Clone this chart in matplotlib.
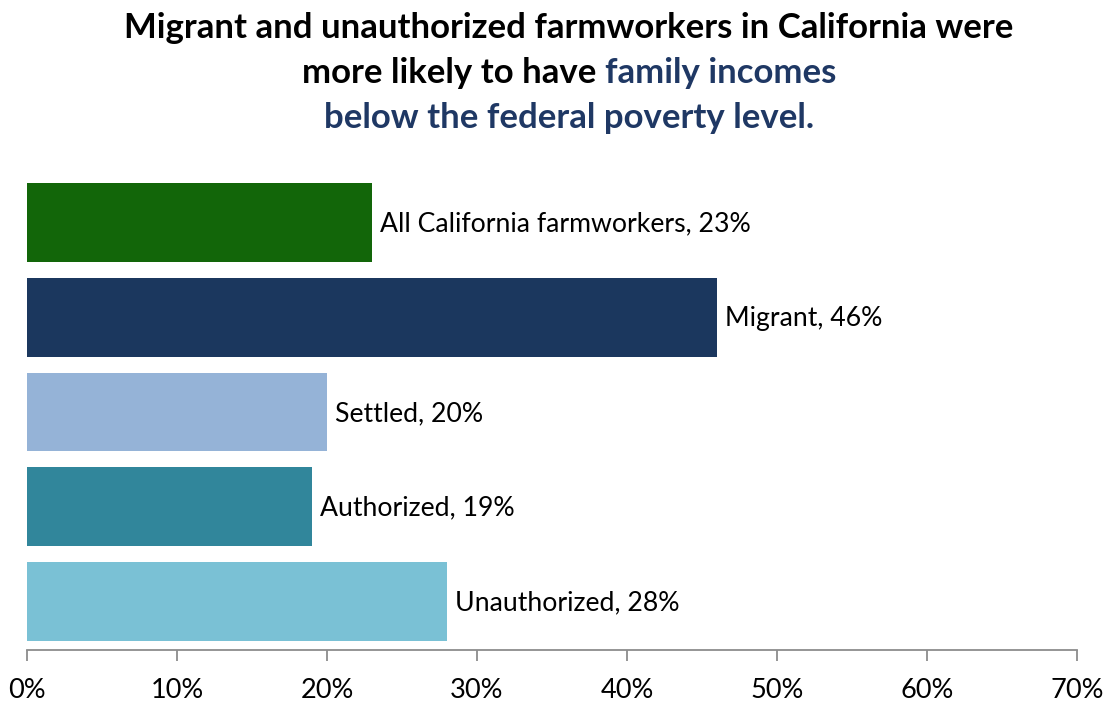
import matplotlib
matplotlib.use("Agg")
import matplotlib.pyplot as plt

# poverty shares by farmworker group
groups = ["All California farmworkers", "Migrant", "Settled", "Authorized", "Unauthorized"]
shares = [23, 46, 20, 19, 28]
colors = ["#126609", "#1B375E", "#95B3D7", "#31869B", "#7AC1D5"]
xticks = [0, 10, 20, 30, 40, 50, 60, 70]

plt.rcParams["font.family"] = ["Lato", "DejaVu Sans"]

fig = plt.figure(figsize=(11.05, 7.02), dpi=100)
ax = fig.add_axes([0.0244, 0.0741, 0.9502, 0.6766])

ypos = list(range(len(groups)))
ax.barh(ypos, shares, height=0.83, color=colors)
for y, v, g in zip(ypos, shares, groups):
    ax.annotate(f"{g}, {v}%", (v, y), xytext=(6, -1), textcoords="offset points",
                va="center", ha="left", fontsize=19.2, color="black")

ax.set_xlim(0, 70)
ax.set_ylim(4.51, -0.5)
ax.set_xticks(xticks)
ax.set_xticklabels([f"{t}%" for t in xticks], fontsize=19.5)
ax.set_yticks([])
for s in ["top", "right", "left"]:
    ax.spines[s].set_visible(False)
ax.spines["bottom"].set_color("#8c8c8c")
ax.spines["bottom"].set_linewidth(1.3)
ax.tick_params(axis="x", direction="out", length=8, width=1.3, color="#8c8c8c", pad=12)

# title, with the second part in navy
navy = "#1F3864"
tsize = 25
xc = 569 / 1105
fig.text(xc, 1 - 28 / 702, "Migrant and unauthorized farmworkers in California were",
         ha="center", va="center", fontsize=tsize, fontweight="bold", color="black")
fig.canvas.draw()
r = fig.canvas.get_renderer()
p1 = fig.text(0, 0, "more likely to have ", fontsize=tsize, fontweight="bold")
p2 = fig.text(0, 0, "family incomes", fontsize=tsize, fontweight="bold")
w1 = p1.get_window_extent(r).width
w2 = p2.get_window_extent(r).width
W = fig.bbox.width
x0 = xc - (w1 + w2) / 2 / W
y2 = 1 - 73 / 702
p1.set_position((x0, y2))
p1.set_va("center")
p1.set_color("black")
p2.set_position((x0 + w1 / W, y2))
p2.set_va("center")
p2.set_color(navy)
fig.text(xc, 1 - 118 / 702, "below the federal poverty level.",
         ha="center", va="center", fontsize=tsize, fontweight="bold", color=navy)

fig.savefig("out.png", dpi=100)
